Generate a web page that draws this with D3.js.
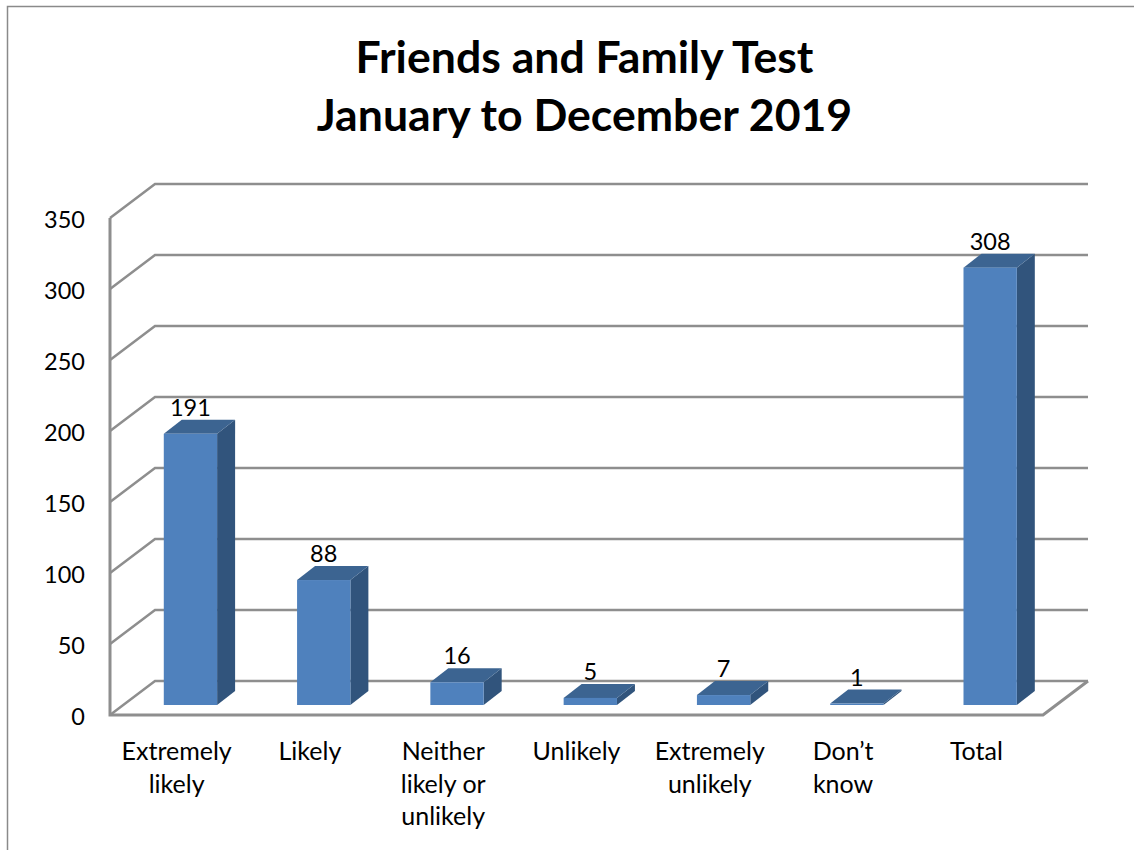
<!DOCTYPE html>
<html>
<head>
<meta charset="utf-8">
<script src="https://cdn.jsdelivr.net/npm/d3@7"></script>
<style>
  html, body { margin: 0; padding: 0; background: #fff; overflow: hidden; }
  text { font-family: Lato, "Open Sans", sans-serif; fill: #000; }
</style>
</head>
<body>
<svg id="chart" width="1134" height="850"></svg>
<script>
const categories = ['Extremely likely', 'Likely', 'Neither likely or unlikely', 'Unlikely', 'Extremely unlikely', 'Don\u2019t know', 'Total'];
const categoryLines = [['Extremely', 'likely'], ['Likely'], ['Neither', 'likely or', 'unlikely'], ['Unlikely'], ['Extremely', 'unlikely'], ['Don\u2019t', 'know'], ['Total']];
const values = [191, 88, 16, 5, 7, 1, 308];
const yTicks = [0, 50, 100, 150, 200, 250, 300, 350];
const titleLines = ['Friends and Family Test', 'January to December 2019'];

const svg = d3.select('#chart');

// Front plane of the 3D box
const x = d3.scaleBand().domain(categories).range([110, 1043]).paddingInner(0.6).paddingOuter(0.3);
const y = d3.scaleLinear().domain([0, 350]).range([715, 218]);

// Depth of the walls and of the bars
const wallDx = 45, wallDy = -34;
const barOffX = 13.8, barOffY = -10;
const barDx = 18, barDy = -14;

const gridColor = '#8e8e8e';
const faceColor = '#4f81bd', topColor = '#3c6491', sideColor = '#31547c';

// Outer chart border, cropped by the page on the right and at the bottom
svg.append('path')
  .attr('d', 'M7.5,850V6.5H1134')
  .attr('fill', 'none')
  .attr('stroke', '#8a8a8a')
  .attr('stroke-width', 1.5);

svg.selectAll('text.title')
  .data(titleLines)
  .join('text')
  .attr('class', 'title')
  .attr('x', 584.5)
  .attr('y', (d, i) => 73 + i * 57.5)
  .attr('text-anchor', 'middle')
  .attr('font-size', 44.6)
  .attr('font-weight', 700)
  .text(d => d);

// Gridlines: short diagonal on the side wall, then along the back wall
const grid = svg.append('g');
grid.selectAll('path')
  .data(yTicks)
  .join('path')
  .attr('d', d => `M${x.range()[0]},${y(d)}L${x.range()[0] + wallDx},${y(d) + wallDy}H${x.range()[1] + wallDx}`)
  .attr('fill', 'none')
  .attr('stroke', gridColor)
  .attr('stroke-width', 2.5);

// Axis lines
grid.append('path')
  .attr('d', `M${x.range()[0]},${y(350)}V${y(0)}H${x.range()[1]}L${x.range()[1] + wallDx},${y(0) + wallDy}`)
  .attr('fill', 'none')
  .attr('stroke', gridColor)
  .attr('stroke-width', 3);

// Y labels
svg.selectAll('text.ytick')
  .data(yTicks)
  .join('text')
  .attr('class', 'ytick')
  .attr('x', 85)
  .attr('y', d => y(d) + 10)
  .attr('text-anchor', 'end')
  .attr('font-size', 23.5)
  .text(d => d);

// Bars
const bars = svg.append('g').selectAll('g').data(values).join('g');
const bx = (d, i) => x(categories[i]) + barOffX;
const bTop = d => y(d) + barOffY;
const bBase = y(0) + barOffY;

bars.append('path')
  .attr('fill', sideColor)
  .attr('d', (d, i) => {
    const r = bx(d, i) + x.bandwidth();
    return `M${r},${bBase}L${r + barDx},${bBase + barDy}V${bTop(d) + barDy}L${r},${bTop(d)}Z`;
  });
bars.append('path')
  .attr('fill', topColor)
  .attr('d', (d, i) => {
    const l = bx(d, i), r = l + x.bandwidth();
    return `M${l},${bTop(d)}L${l + barDx},${bTop(d) + barDy}H${r + barDx}L${r},${bTop(d)}Z`;
  });
bars.append('rect')
  .attr('fill', faceColor)
  .attr('x', bx)
  .attr('y', bTop)
  .attr('width', x.bandwidth())
  .attr('height', d => bBase - bTop(d));

// Value labels
bars.append('text')
  .attr('x', (d, i) => bx(d, i) + x.bandwidth() / 2)
  .attr('y', d => bTop(d) - 18)
  .attr('text-anchor', 'middle')
  .attr('font-size', 23.5)
  .text(d => d);

// Category labels
svg.append('g').selectAll('text')
  .data(categories)
  .join('text')
  .attr('text-anchor', 'middle')
  .attr('font-size', 25)
  .each(function(c, i) {
    d3.select(this).selectAll('tspan')
      .data(categoryLines[i])
      .join('tspan')
      .attr('x', x(c) + x.bandwidth() / 2)
      .attr('y', (d, j) => 760 + j * 32.5)
      .text(d => d);
  });
</script>
</body>
</html>
